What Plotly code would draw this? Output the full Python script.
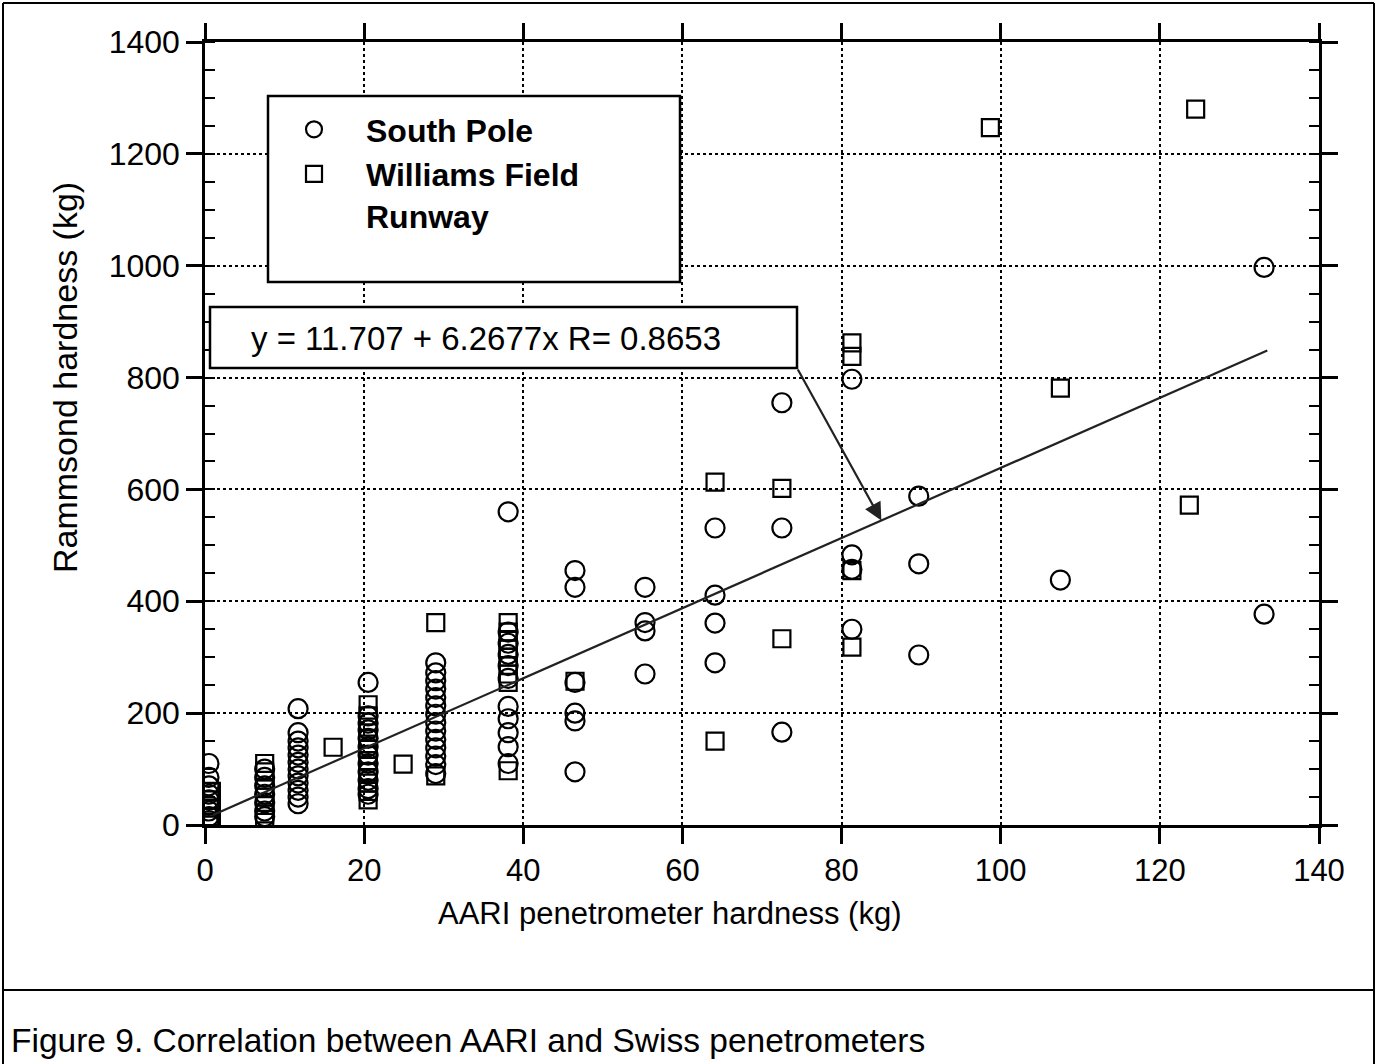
import plotly.graph_objects as go

# ---- data ----
sp_x = ([0.5]*10 + [7.5]*7 + [11.7]*12 + [20.5]*12 + [29.0]*14 + [38.1]*11 +
        [46.5]*6 + [55.3]*4 + [64.1]*4 + [72.5]*3 + [81.3]*4 + [89.7]*3 + [107.5] + [133.1]*2)
sp_y = ([110, 85, 70, 55, 45, 35, 25, 15, 8, 3] +
        [100, 85, 70, 55, 40, 25, 15] +
        [208, 165, 150, 138, 125, 112, 100, 88, 75, 62, 50, 38] +
        [255, 195, 182, 170, 155, 140, 125, 110, 95, 80, 65, 55] +
        [290, 272, 258, 243, 228, 213, 198, 183, 168, 153, 138, 123, 108, 92] +
        [560, 345, 325, 305, 285, 262, 212, 190, 165, 140, 110] +
        [455, 425, 255, 200, 186, 95] +
        [425, 362, 347, 270] +
        [531, 411, 361, 290] +
        [755, 531, 166] +
        [797, 483, 457, 350] +
        [588, 467, 304] +
        [438] +
        [997, 377])

wf_x = ([0.8]*5 + [7.5]*8 + [16.1] + [20.5]*10 + [24.9] + [29.0]*2 + [38.1]*9 +
        [46.5] + [64.1]*2 + [72.5]*2 + [81.3]*4 + [98.7] + [107.5] + [123.7] + [124.5])
wf_y = ([60, 45, 30, 15, 5] +
        [110, 95, 80, 65, 50, 35, 20, 10] +
        [139] +
        [215, 195, 175, 155, 135, 115, 95, 75, 60, 45] +
        [109] +
        [362, 88] +
        [362, 345, 330, 315, 300, 285, 270, 255, 97] +
        [257] +
        [613, 150] +
        [602, 333] +
        [862, 838, 455, 318] +
        [1247] +
        [781] +
        [572] +
        [1280])

fit_intercept = 11.707
fit_slope = 6.2677
fit_x = [1.0, 133.5]
fit_y = [fit_intercept + fit_slope * v for v in fit_x]

x_ticks = [0, 20, 40, 60, 80, 100, 120, 140]
y_ticks = [0, 200, 400, 600, 800, 1000, 1200, 1400]

FONT = "Liberation Sans, Arial, Helvetica, sans-serif"

fig = go.Figure()
fig.add_trace(go.Scatter(
    x=sp_x, y=sp_y, mode="markers", name="South Pole",
    marker=dict(symbol="circle-open", size=19, color="black", line=dict(width=2.2, color="black")),
))
fig.add_trace(go.Scatter(
    x=wf_x, y=wf_y, mode="markers", name="Williams Field<br>Runway",
    marker=dict(symbol="square-open", size=17, color="black", line=dict(width=2.2, color="black")),
))
fig.add_trace(go.Scatter(
    x=fit_x, y=fit_y, mode="lines", showlegend=False,
    line=dict(color="#222", width=2.2),
))

axis_common = dict(
    showline=True, linecolor="black", linewidth=2.5, mirror="allticks",
    ticks="outside", ticklen=16, tickwidth=2.5, tickcolor="black",
    showgrid=True, gridcolor="black", gridwidth=2, griddash="dot",
    zeroline=False,
)

fig.update_xaxes(
    range=[0, 140], tickvals=x_ticks, ticktext=[str(v) for v in x_ticks],
    tickfont=dict(family=FONT, size=31, color="black"),
    **axis_common,
)
fig.update_yaxes(
    range=[0, 1400], tickvals=y_ticks, ticktext=[str(v) for v in y_ticks],
    tickfont=dict(family=FONT, size=32, color="black"),
    minor=dict(dtick=50, tick0=0, ticks="inside", ticklen=10, tickwidth=2, tickcolor="black", showgrid=False),
    **axis_common,
)

L, R, T, B = 205, 59, 42, 239
W, H = 1378, 1064
pw, ph = W - L - R, H - T - B

def px2paper_x(px):
    return (px - L) / pw

def px2paper_y(py):
    return (H - B - py) / ph

shapes = []
# outer frame and separator
shapes.append(dict(type="line", xref="paper", yref="paper", x0=px2paper_x(3), x1=px2paper_x(3),
                   y0=px2paper_y(3), y1=px2paper_y(1064), line=dict(color="black", width=2)))
shapes.append(dict(type="line", xref="paper", yref="paper", x0=px2paper_x(1374), x1=px2paper_x(1374),
                   y0=px2paper_y(3), y1=px2paper_y(1064), line=dict(color="black", width=2)))
shapes.append(dict(type="line", xref="paper", yref="paper", x0=px2paper_x(3), x1=px2paper_x(1374),
                   y0=px2paper_y(3), y1=px2paper_y(3), line=dict(color="black", width=2)))
shapes.append(dict(type="line", xref="paper", yref="paper", x0=px2paper_x(3), x1=px2paper_x(1374),
                   y0=px2paper_y(990), y1=px2paper_y(990), line=dict(color="black", width=2)))
# legend box
shapes.append(dict(type="rect", xref="paper", yref="paper", layer="above",
                   x0=px2paper_x(268), x1=px2paper_x(680), y0=px2paper_y(282), y1=px2paper_y(96),
                   line=dict(color="black", width=2.5), fillcolor="white"))
# equation box
shapes.append(dict(type="rect", xref="paper", yref="paper", layer="above",
                   x0=px2paper_x(210), x1=px2paper_x(797), y0=px2paper_y(368), y1=px2paper_y(307),
                   line=dict(color="black", width=2.5), fillcolor="white"))

annotations = [
    dict(xref="paper", yref="paper", x=px2paper_x(249), y=px2paper_y(338), xanchor="left", yanchor="middle",
         text="y = 11.707 + 6.2677x R= 0.8653", showarrow=False,
         font=dict(family=FONT, size=33, color="black")),
    dict(x=85.0, y=fit_intercept + fit_slope * 85.0, xref="x", yref="y",
         ax=74.4, ay=817, axref="x", ayref="y", text="", showarrow=True,
         arrowhead=2, arrowsize=1.6, arrowwidth=2.2, arrowcolor="#222", standoff=0),
    # axis titles
    dict(xref="paper", yref="paper", x=px2paper_x(670), y=px2paper_y(913), xanchor="center", yanchor="middle",
         text="AARI penetrometer hardness (kg)", showarrow=False,
         font=dict(family=FONT, size=31, color="black")),
    dict(xref="paper", yref="paper", x=px2paper_x(65), y=px2paper_y(378), xanchor="center", yanchor="middle",
         text="Rammsond hardness (kg)", showarrow=False, textangle=-90,
         font=dict(family=FONT, size=34, color="black")),
    # caption
    dict(xref="paper", yref="paper", x=px2paper_x(9), y=px2paper_y(1040), xanchor="left", yanchor="middle",
         text="Figure 9. Correlation between AARI and Swiss penetrometers", showarrow=False,
         font=dict(family=FONT, size=33.5, color="black")),
]

fig.update_layout(
    width=W, height=H,
    margin=dict(l=L, r=R, t=T, b=B, pad=0),
    paper_bgcolor="white", plot_bgcolor="white",
    shapes=shapes, annotations=annotations,
    showlegend=True,
    legend=dict(x=px2paper_x(262), y=px2paper_y(102), xanchor="left", yanchor="top",
                bgcolor="rgba(0,0,0,0)", borderwidth=0, itemwidth=94, valign="top",
                tracegroupgap=12,
                font=dict(family=FONT, size=32, color="black", weight="bold")),
    font=dict(family=FONT, color="black"),
)

fig.write_html("out.html", post_script="document.body.style.margin='0';",
               config={"displayModeBar": False})
